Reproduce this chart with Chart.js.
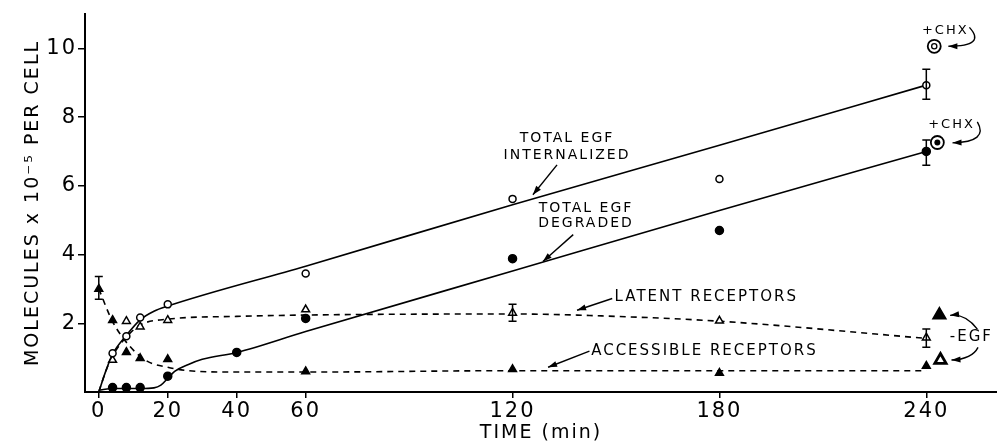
<!DOCTYPE html>
<html lang="en">
<head>
<meta charset="UTF-8">
<title>EGF internalization and receptors</title>
<script src="https://cdn.jsdelivr.net/npm/chart.js@4.4.1/dist/chart.umd.min.js"></script>
<style>
  html, body { margin: 0; padding: 0; background: #fff; }
  .chart-container { width: 997px; height: 443px; position: relative; }
</style>
</head>
<body>
<div class="chart-container"><canvas id="chart"></canvas></div>
<script>
  // measured points (time in min, molecules x 10^-5 per cell)
  const internalT = [4, 8, 12, 20, 60, 120, 180, 240];
  const internalY = [1.13, 1.62, 2.17, 2.55, 3.45, 5.62, 6.2, 8.93];
  const degradedT = [4, 8, 12, 20, 40, 60, 120, 180, 240];
  const degradedY = [0.13, 0.13, 0.13, 0.46, 1.15, 2.14, 3.88, 4.7, 7.0];
  const latentT = [4, 8, 12, 20, 60, 120, 180, 240];
  const latentY = [0.93, 2.06, 1.9, 2.09, 2.4, 2.3, 2.07, 1.58];
  const accessT = [0, 4, 8, 12, 20, 60, 120, 180, 240];
  const accessY = [3.0, 2.09, 1.16, 0.98, 0.95, 0.6, 0.66, 0.55, 0.76];

  // fitted curves
  const internalFitT = [0, 2, 4, 8, 12, 16, 20, 60, 120, 180, 240];
  const internalFitY = [0, 0.6, 1.1, 1.65, 2.1, 2.35, 2.5, 3.66, 5.45, 7.18, 8.93];
  const degradedFitT = [0, 4, 8, 12, 16, 18, 20, 22, 26, 30, 40, 60, 120, 180, 240];
  const degradedFitY = [0.05, 0.1, 0.1, 0.1, 0.12, 0.2, 0.4, 0.6, 0.8, 0.95, 1.15, 1.76, 3.52, 5.28, 7.0];
  const latentFitT = [0, 2, 4, 8, 12, 20, 40, 60, 120, 150, 180, 240];
  const latentFitY = [0, 0.6, 1.05, 1.6, 1.95, 2.12, 2.2, 2.24, 2.27, 2.2, 2.06, 1.56];
  const accessFitT = [0, 4, 9, 14, 20, 26, 40, 60, 120, 180, 240];
  const accessFitY = [3.0, 2.05, 1.33, 0.9, 0.72, 0.62, 0.58, 0.58, 0.62, 0.62, 0.62];

  // +CHX and -EGF points at 240 min
  const chxT = [242.3, 243.2];
  const chxY = [10.06, 7.26];
  const egfT = [243.8, 244.1];
  const egfY = [2.24, 0.93];

  // error bars
  const errT = [0, 120, 240, 240, 240];
  const errLo = [2.7, 2.06, 1.3, 6.6, 8.52];
  const errHi = [3.36, 2.55, 1.83, 7.33, 9.39];

  const xTicks = [0, 20, 40, 60, 120, 180, 240];
  const yTicks = [2, 4, 6, 8, 10];

  const pts = (xs, ys) => xs.map((x, i) => ({ x: x, y: ys[i] }));
  const FONT = "'DejaVu Sans', sans-serif";

  // text labels and arrows, placed in data units
  const notes = [
    { text: 'TOTAL EGF', x: 135.8, y: 7.39, align: 'center', size: 14 },
    { text: 'INTERNALIZED', x: 135.8, y: 6.9, align: 'center', size: 14 },
    { text: 'TOTAL EGF', x: 141.3, y: 5.33, align: 'center', size: 14 },
    { text: 'DEGRADED', x: 141.3, y: 4.9, align: 'center', size: 14 },
    { text: 'LATENT RECEPTORS', x: 149.6, y: 2.75, align: 'left', size: 15 },
    { text: 'ACCESSIBLE RECEPTORS', x: 142.8, y: 1.19, align: 'left', size: 15 },
    { text: '+CHX', x: 245.5, y: 10.52, align: 'center', size: 13 },
    { text: '+CHX', x: 247.3, y: 7.77, align: 'center', size: 13 },
    { text: '-EGF', x: 246.8, y: 1.6, align: 'left', size: 15 }
  ];
  // [x0, y0, cx, cy, x1, y1] quadratic arrows (straight when no control point)
  const arrows = [
    [132.9, 6.61, null, null, 125.9, 5.74],
    [137.6, 4.58, null, null, 128.8, 3.8],
    [148.9, 2.72, null, null, 138.7, 2.38],
    [142.3, 1.19, null, null, 130.3, 0.72],
    [252.5, 10.61, 257.5, 10.06, 246.4, 10.06],
    [254.8, 7.86, 258.2, 7.28, 247.6, 7.25],
    [254.8, 1.83, 251.3, 2.29, 246.9, 2.23],
    [255.0, 1.3, 253.3, 0.96, 247.3, 0.93]
  ];

  const extrasPlugin = {
    id: 'extras',
    beforeDraw(chart) {
      // the original lettering is widely spaced
      chart.ctx.letterSpacing = '2px';
    },
    afterDatasetsDraw(chart) {
      const ctx = chart.ctx;
      const xs = chart.scales.x, ys = chart.scales.y;
      ctx.save();
      ctx.strokeStyle = '#000';
      ctx.fillStyle = '#000';
      ctx.lineWidth = 1.5;
      // error bars
      errT.forEach((t, i) => {
        const px = xs.getPixelForValue(t);
        const lo = ys.getPixelForValue(errLo[i]);
        const hi = ys.getPixelForValue(errHi[i]);
        ctx.beginPath();
        ctx.moveTo(px, lo); ctx.lineTo(px, hi);
        ctx.moveTo(px - 4, lo); ctx.lineTo(px + 4, lo);
        ctx.moveTo(px - 4, hi); ctx.lineTo(px + 4, hi);
        ctx.stroke();
      });
      // labels
      ctx.textBaseline = 'middle';
      ctx.letterSpacing = '2px';
      notes.forEach(n => {
        ctx.font = n.size + 'px ' + FONT;
        ctx.textAlign = n.align;
        ctx.fillText(n.text, xs.getPixelForValue(n.x), ys.getPixelForValue(n.y));
      });
      // arrows
      ctx.lineWidth = 1.4;
      arrows.forEach(a => {
        const x0 = xs.getPixelForValue(a[0]), y0 = ys.getPixelForValue(a[1]);
        const x1 = xs.getPixelForValue(a[4]), y1 = ys.getPixelForValue(a[5]);
        let cx = (x0 + x1) / 2, cy = (y0 + y1) / 2;
        if (a[2] !== null) { cx = xs.getPixelForValue(a[2]); cy = ys.getPixelForValue(a[3]); }
        ctx.beginPath();
        ctx.moveTo(x0, y0);
        ctx.quadraticCurveTo(cx, cy, x1, y1);
        ctx.stroke();
        const ang = Math.atan2(y1 - cy, x1 - cx);
        const L = 9, W = 3;
        ctx.beginPath();
        ctx.moveTo(x1, y1);
        ctx.lineTo(x1 - L * Math.cos(ang) + W * Math.sin(ang), y1 - L * Math.sin(ang) - W * Math.cos(ang));
        ctx.lineTo(x1 - L * Math.cos(ang) - W * Math.sin(ang), y1 - L * Math.sin(ang) + W * Math.cos(ang));
        ctx.closePath();
        ctx.fill();
      });
      // inner marks of +CHX bullseyes
      const c0x = xs.getPixelForValue(chxT[0]), c0y = ys.getPixelForValue(chxY[0]);
      ctx.lineWidth = 1.3;
      ctx.beginPath(); ctx.arc(c0x, c0y, 2.6, 0, Math.PI * 2); ctx.stroke();
      const c1x = xs.getPixelForValue(chxT[1]), c1y = ys.getPixelForValue(chxY[1]);
      ctx.beginPath(); ctx.arc(c1x, c1y, 3, 0, Math.PI * 2); ctx.fill();
      ctx.restore();
    }
  };

  const fitLine = (data, dashed) => ({
    type: 'line',
    data: data,
    borderColor: '#000',
    borderWidth: 1.6,
    borderDash: dashed ? [6, 5] : [],
    pointRadius: 0,
    cubicInterpolationMode: 'monotone',
    fill: false,
    order: 2
  });

  const marks = (data, style, radius, filled, bw) => ({
    type: 'scatter',
    data: data,
    pointStyle: style,
    pointRadius: radius,
    pointHoverRadius: radius,
    pointBackgroundColor: filled ? '#000' : '#fff',
    pointBorderColor: '#000',
    pointBorderWidth: bw || 1.5,
    showLine: false,
    order: 0
  });

  new Chart(document.getElementById('chart'), {
    type: 'scatter',
    data: {
      datasets: [
        fitLine(pts(internalFitT, internalFitY), false),
        fitLine(pts(degradedFitT, degradedFitY), false),
        fitLine(pts(latentFitT, latentFitY), true),
        fitLine(pts(accessFitT, accessFitY), true),
        marks(pts(internalT, internalY), 'circle', 3.5, false),
        marks(pts(degradedT, degradedY), 'circle', 4, true),
        marks(pts(latentT, latentY), 'triangle', 4.5, false),
        marks(pts(accessT, accessY), 'triangle', 4.5, true),
        marks(pts(chxT, chxY), 'circle', 6.5, false, 1.8),
        marks(pts(egfT.slice(0, 1), egfY.slice(0, 1)), 'triangle', 7.5, true),
        marks(pts(egfT.slice(1), egfY.slice(1)), 'triangle', 6.5, false, 2.8)
      ]
    },
    options: {
      responsive: true,
      maintainAspectRatio: false,
      animation: false,
      layout: { autoPadding: false, padding: { top: 14, right: 0, left: 0, bottom: 0 } },
      plugins: { legend: { display: false }, tooltip: { enabled: false } },
      scales: {
        x: {
          type: 'linear',
          min: -4,
          max: 260.5,
          afterBuildTicks: s => { s.ticks = xTicks.map(v => ({ value: v })); },
          afterFit: s => { s.height = 51; },
          grid: { drawOnChartArea: false, drawTicks: true, tickLength: 6, color: '#000', lineWidth: 1.5 },
          border: { display: true, color: '#000', width: 2 },
          ticks: { color: '#000', font: { family: FONT, size: 21 }, padding: 1, maxRotation: 0 },
          title: { display: true, text: 'TIME (min)', color: '#000', font: { family: FONT, size: 19 }, padding: { top: 0, bottom: -1 } }
        },
        y: {
          min: 0,
          max: 11,
          afterBuildTicks: s => { s.ticks = yTicks.map(v => ({ value: v })); },
          afterFit: s => { s.width = 85; },
          grid: { drawOnChartArea: false, drawTicks: true, tickLength: 7, color: '#000', lineWidth: 1.5 },
          border: { display: true, color: '#000', width: 2 },
          ticks: { color: '#000', font: { family: FONT, size: 21 }, padding: 1 },
          title: { display: true, text: 'MOLECULES x 10\u207B\u2075 PER CELL', color: '#000', font: { family: FONT, size: 19 }, padding: { top: 22, bottom: 0 } }
        }
      }
    },
    plugins: [extrasPlugin]
  });
</script>
</body>
</html>
